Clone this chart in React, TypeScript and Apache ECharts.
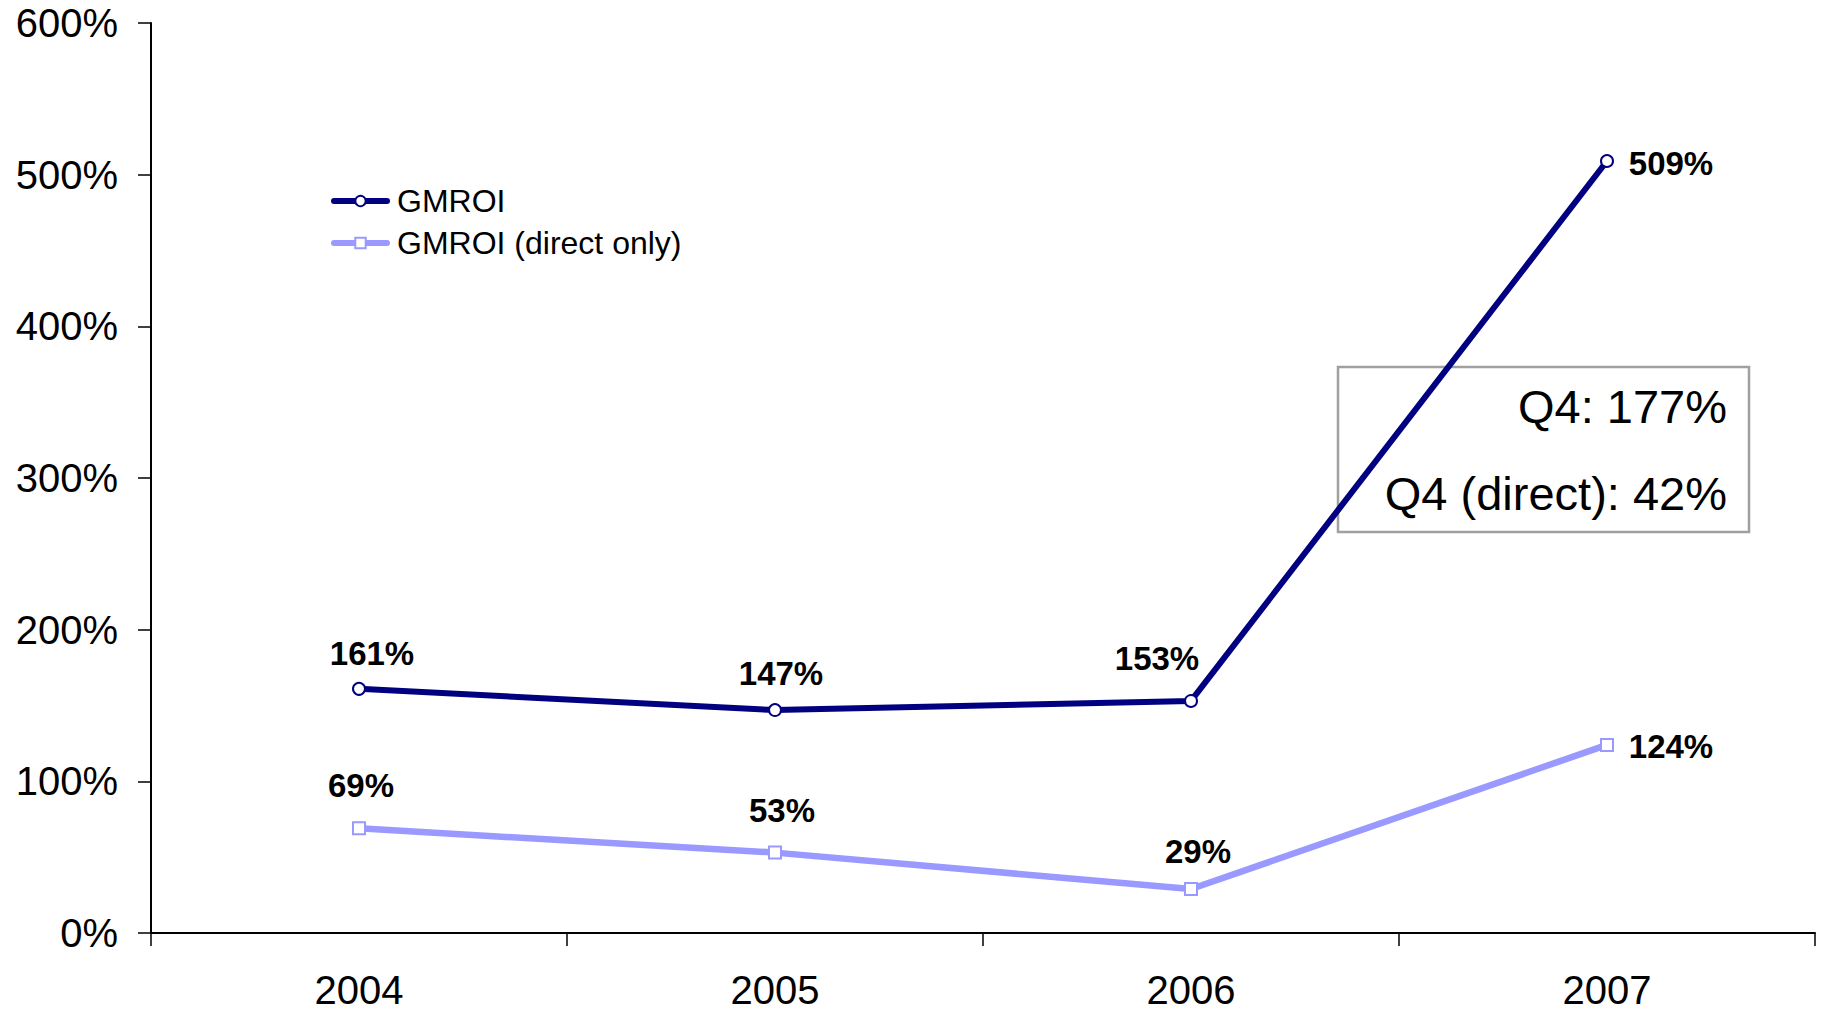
import React, { useEffect, useRef } from "react";
import * as echarts from "echarts";

const years = ["2004", "2005", "2006", "2007"];
const gmroi = [161, 147, 153, 509];
const gmroiDirect = [69, 53, 29, 124];
const yTicks = { min: 0, max: 600, interval: 100 };
const noteLines = ["Q4: 177%", "Q4 (direct): 42%"];

const FONT = "'Liberation Sans', Arial, Helvetica, sans-serif";
const NAVY = "#000080";
const LILAC = "#9999FF";

// per-point label offsets (pixels from the marker centre)
const gmroiLabelOffsets = [
  [13, -35],
  [6, -37],
  [-34, -42],
  [64, 2],
];
const directLabelOffsets = [
  [2, -43],
  [7, -42],
  [7, -38],
  [64, 2],
];

export default function App() {
  const ref = useRef<HTMLDivElement>(null);

  useEffect(() => {
    if (!ref.current) return;
    const chart = echarts.init(ref.current, undefined, { renderer: "svg" });

    const labelStyle = {
      show: true,
      position: "inside",
      formatter: "{c}%",
      fontFamily: FONT,
      fontWeight: "bold",
      fontSize: 33,
      color: "#000",
    };

    const withLabels = (vals: number[], offs: number[][]) =>
      vals.map((v, i) => ({ value: v, label: { offset: offs[i] } }));

    chart.setOption({
      animation: false,
      backgroundColor: "#fff",
      grid: {
        left: 151,
        right: 6,
        top: 23,
        bottom: 78,
        containLabel: false,
        outerBoundsMode: "none",
      },
      legend: {
        orient: "vertical",
        left: 326,
        top: 180,
        itemWidth: 53,
        itemHeight: 13,
        itemGap: 10,
        lineStyle: { width: 6, cap: "round" },
        textStyle: {
          fontFamily: FONT,
          fontSize: 32,
          color: "#000",
          padding: [0, 0, 0, 5],
        },
        data: ["GMROI", "GMROI (direct only)"],
      },
      xAxis: {
        type: "category",
        data: years,
        boundaryGap: true,
        axisLine: { show: true, lineStyle: { color: "#000", width: 2 } },
        axisTick: { show: true, length: 13, lineStyle: { color: "#000", width: 1.5 } },
        axisLabel: {
          margin: 57,
          verticalAlign: "middle",
          lineHeight: 34,
          fontFamily: FONT,
          fontSize: 40,
          color: "#000",
        },
        splitLine: { show: false },
      },
      yAxis: {
        type: "value",
        min: yTicks.min,
        max: yTicks.max,
        interval: yTicks.interval,
        axisLine: { show: true, lineStyle: { color: "#000", width: 2 } },
        axisTick: { show: true, length: 13, lineStyle: { color: "#000", width: 1.5 } },
        axisLabel: {
          margin: 33,
          formatter: "{value}%",
          fontFamily: FONT,
          fontSize: 40,
          color: "#000",
        },
        splitLine: { show: false },
      },
      series: [
        {
          name: "GMROI",
          type: "line",
          data: withLabels(gmroi, gmroiLabelOffsets),
          symbol: "circle",
          symbolSize: 12,
          showAllSymbol: true,
          lineStyle: { color: NAVY, width: 6 },
          itemStyle: { color: "#fff", borderColor: NAVY, borderWidth: 2 },
          label: labelStyle,
          z: 3,
        },
        {
          name: "GMROI (direct only)",
          type: "line",
          data: withLabels(gmroiDirect, directLabelOffsets),
          symbol: "rect",
          symbolSize: 12,
          showAllSymbol: true,
          lineStyle: { color: LILAC, width: 6.5 },
          itemStyle: { color: "#fff", borderColor: LILAC, borderWidth: 2 },
          label: labelStyle,
          z: 2,
        },
      ],
      graphic: [
        {
          type: "group",
          z: 100,
          children: [
            {
              type: "rect",
              shape: { x: 1338, y: 367, width: 411, height: 165 },
              style: { fill: "rgba(255,255,255,0.93)", stroke: "#a0a0a0", lineWidth: 2.5 },
            },
            {
              type: "text",
              x: 1727,
              y: 406,
              style: {
                text: noteLines[0],
                fontFamily: FONT,
                fontSize: 47,
                fill: "#000",
                align: "right",
                verticalAlign: "middle",
              },
            },
            {
              type: "text",
              x: 1727,
              y: 493,
              style: {
                text: noteLines[1],
                fontFamily: FONT,
                fontSize: 47,
                fill: "#000",
                align: "right",
                verticalAlign: "middle",
              },
            },
          ],
        },
      ],
    });

    return () => chart.dispose();
  }, []);

  return (
    <div
      ref={ref}
      style={{ position: "absolute", left: 0, top: 0, width: 1821, height: 1011 }}
    />
  );
}
